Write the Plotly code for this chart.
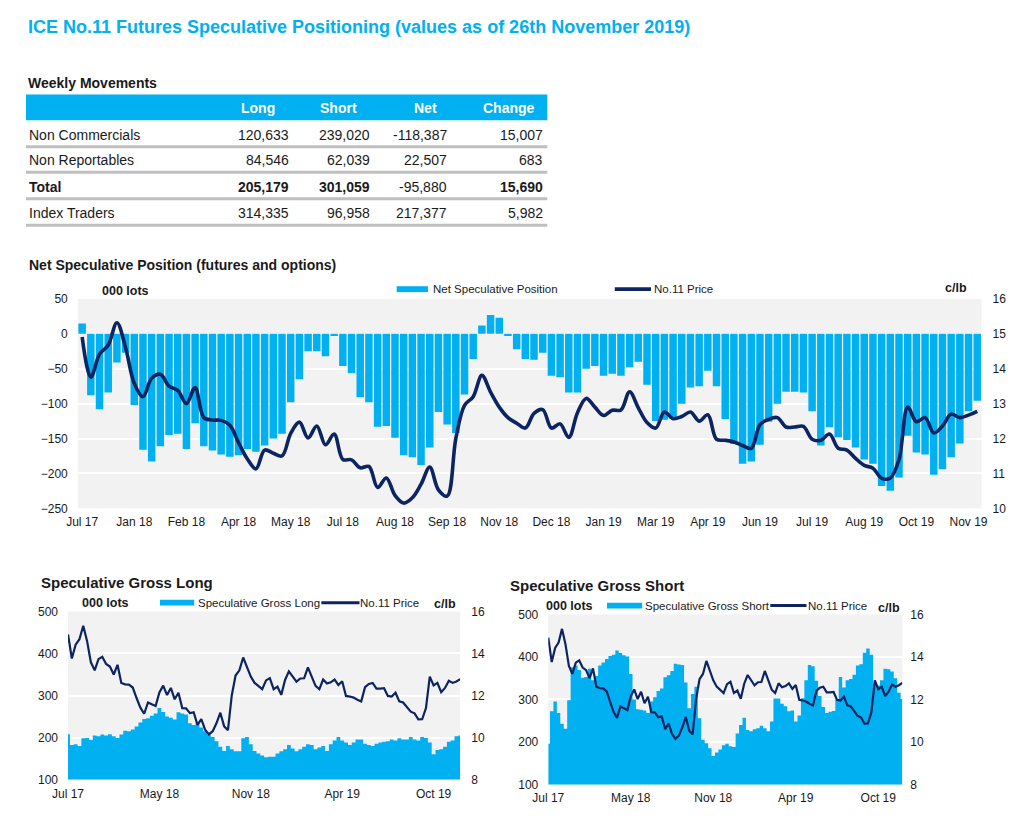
import plotly.graph_objects as go

# ---------------- data ----------------
table_cols = ["Long", "Short", "Net", "Change"]
table_rows = ["Non Commercials", "Non Reportables", "Total", "Index Traders"]
row_long = ["120,633", "84,546", "205,179", "314,335"]
row_short = ["239,020", "62,039", "301,059", "96,958"]
row_net = ["-118,387", "22,507", "-95,880", "217,377"]
row_change = ["15,007", "683", "15,690", "5,982"]
row_bold = [False, False, True, False]

main_ticks = ["Jul 17", "Jan 18", "Feb 18", "Apr 18", "May 18", "Jul 18", "Aug 18", "Sep 18",
              "Nov 18", "Dec 18", "Jan 19", "Mar 19", "Apr 19", "Jun 19", "Jul 19", "Aug 19",
              "Oct 19", "Nov 19"]
small_ticks = ["Jul 17", "May 18", "Nov 18", "Apr 19", "Oct 19"]

net_position = [15, -88, -108, -84, -41, -27, -102, -166, -183, -161,
                -145, -143, -165, -128, -161, -167, -173, -176, -174, -165,
                -169, -160, -150, -143, -98, -65, -25, -25, -32, -3,
                -46, -56, -91, -98, -133, -132, -149, -174, -177, -188,
                -163, -112, -130, -142, -87, -36, 12, 27, 23, -3,
                -22, -36, -37, -27, -60, -62, -84, -84, -50, -46,
                -60, -57, -60, -48, -40, -73, -125, -123, -122, -100,
                -77, -75, -53, -75, -122, -158, -186, -183, -159, -126,
                -100, -83, -83, -84, -111, -160, -134, -148, -152, -163,
                -180, -186, -218, -225, -206, -146, -170, -173, -202, -194,
                -177, -157, -111, -96]

gross_long = [208, 182, 184, 180, 198, 199, 194, 205, 203, 207,
              205, 208, 203, 199, 207, 216, 215, 219, 226, 236,
              244, 246, 252, 257, 270, 261, 250, 247, 243, 260,
              257, 255, 234, 230, 234, 224, 215, 207, 201, 191,
              178, 168, 180, 172, 167, 167, 198, 201, 184, 168,
              162, 157, 153, 154, 154, 162, 167, 172, 182, 174,
              167, 172, 178, 184, 182, 172, 176, 180, 168, 184,
              193, 201, 193, 188, 182, 188, 195, 195, 185, 182,
              180, 185, 188, 190, 191, 195, 193, 198, 195, 195,
              201, 195, 193, 201, 199, 188, 160, 170, 172, 178,
              190, 193, 203, 205]

gross_short = [196, 272, 295, 268, 243, 231, 298, 376, 380, 369,
               351, 353, 372, 345, 355, 380, 387, 395, 402, 405,
               415, 409, 404, 401, 360, 300, 277, 276, 274, 268,
               295, 305, 320, 326, 352, 357, 367, 384, 382, 381,
               340, 279, 313, 330, 256, 205, 197, 185, 167, 175,
               182, 192, 196, 190, 188, 220, 240, 257, 228, 225,
               230, 232, 238, 232, 225, 248, 302, 302, 290, 284,
               272, 274, 248, 262, 303, 345, 381, 378, 344, 308,
               282, 268, 271, 273, 300, 353, 328, 345, 348, 358,
               380, 383, 410, 420, 405, 336, 333, 345, 372, 371,
               366, 350, 316, 301]

no11_price = [14.91, 13.76, 14.42, 14.68, 15.32, 14.6, 13.58, 13.2, 13.73, 13.84,
              13.5, 13.38, 13.0, 13.46, 12.6, 12.53, 12.52, 12.38, 11.88, 11.42,
              11.13, 11.67, 11.58, 11.5, 12.15, 12.47, 12.02, 12.36, 11.82, 12.13,
              11.4, 11.39, 11.16, 11.2, 10.6, 10.87, 10.37, 10.15, 10.3, 10.69,
              11.18, 10.53, 10.35, 12.0, 12.95, 13.2, 13.81, 13.33, 12.9, 12.6,
              12.44, 12.3, 12.72, 12.83, 12.3, 12.42, 12.03, 12.74, 13.15, 12.9,
              12.66, 12.81, 12.82, 13.34, 12.88, 12.46, 12.3, 12.76, 12.57, 12.63,
              12.76, 12.5, 12.68, 11.98, 11.95, 11.9, 11.8, 11.72, 12.4, 12.55,
              12.6, 12.33, 12.33, 12.35, 11.98, 11.95, 12.13, 11.72, 11.67, 11.43,
              11.23, 11.15, 10.86, 10.87, 11.4, 12.9, 12.48, 12.6, 12.16, 12.36,
              12.7, 12.6, 12.67, 12.78]

weeks = list(range(len(net_position)))

# ---------------- style ----------------
PAGE_W, PAGE_H = 1021, 824
BODY_MARGIN = 8                       # default browser body margin
W, H = PAGE_W - 2 * BODY_MARGIN, PAGE_H - 2 * BODY_MARGIN
BLUE = "#00B0F0"
NAVY = "#0C2461"
GREY_BG = "#F2F2F2"
TXT = "#1A1A1A"
FONT = "Liberation Sans, Arial, sans-serif"


def xp(px):
    return (px - BODY_MARGIN) / W


def yp(py):
    return 1 - (py - BODY_MARGIN) / H


fig = go.Figure()

# main chart
fig.add_trace(go.Bar(x=weeks, y=net_position, xaxis="x", yaxis="y", marker_color=BLUE,
                     marker_line_width=0, width=0.86, showlegend=False))
fig.add_trace(go.Scatter(x=weeks, y=no11_price, xaxis="x", yaxis="y2", mode="lines",
                         line=dict(color=NAVY, width=3.6, shape="spline", smoothing=1.0),
                         showlegend=False))
# gross long (stepped column area)
fig.add_trace(go.Scatter(x=weeks, y=gross_long, xaxis="x2", yaxis="y3", mode="lines",
                         line=dict(width=0, shape="hvh", color=BLUE), fill="tozeroy",
                         fillcolor=BLUE, showlegend=False))
fig.add_trace(go.Scatter(x=weeks, y=no11_price, xaxis="x2", yaxis="y4", mode="lines",
                         line=dict(color=NAVY, width=2.2), showlegend=False))
# gross short (stepped column area)
fig.add_trace(go.Scatter(x=weeks, y=gross_short, xaxis="x3", yaxis="y5", mode="lines",
                         line=dict(width=0, shape="hvh", color=BLUE), fill="tozeroy",
                         fillcolor=BLUE, showlegend=False))
fig.add_trace(go.Scatter(x=weeks, y=no11_price, xaxis="x3", yaxis="y6", mode="lines",
                         line=dict(color=NAVY, width=2.2), showlegend=False))

tickfont = dict(family=FONT, size=12, color=TXT)


def xaxis(dom, anchor, step, labels, standoff, rng):
    return dict(domain=[xp(dom[0]), xp(dom[1])], anchor=anchor, range=rng,
                tickmode="array", tickvals=weeks[::step], ticktext=labels,
                showgrid=False, zeroline=False, showline=False, ticks="",
                tickfont=tickfont, ticklabelstandoff=standoff, fixedrange=True)


def yleft(dom, anchor, rng, dtick, standoff):
    return dict(domain=[yp(dom[1]), yp(dom[0])], anchor=anchor, range=rng, dtick=dtick,
                showgrid=True, gridcolor="white", gridwidth=1.6, zeroline=False,
                showline=False, ticks="", tickfont=tickfont, ticklabelstandoff=standoff,
                fixedrange=True)


def yright(over, anchor, rng, dtick, standoff):
    return dict(overlaying=over, anchor=anchor, side="right", range=rng, dtick=dtick,
                showgrid=False, zeroline=False, showline=False, ticks="",
                tickfont=tickfont, ticklabelstandoff=standoff, fixedrange=True)


bar_range = [-0.5, len(weeks) - 0.5]
area_range = [0, len(weeks) - 1]

layout = dict(
    width=W, height=H, margin=dict(l=0, r=0, t=0, b=0),
    paper_bgcolor="white", plot_bgcolor=GREY_BG, barmode="overlay",
    font=dict(family=FONT, color=TXT),
    xaxis=xaxis((63, 987), "y", 6, main_ticks, 5, bar_range),
    yaxis=yleft((297, 510), "x", [-250, 50], 50, 9),
    yaxis2=yright("y", "x", [10, 16], 1, 10),
    xaxis2=xaxis((53, 454), "y3", 24, small_ticks, 5, area_range),
    yaxis3=yleft((615, 786), "x2", [100, 500], 100, 9),
    yaxis4=yright("y3", "x2", [8, 16], 2, 10),
    xaxis3=xaxis((544, 906), "y5", 24, small_ticks, 5, area_range),
    yaxis5=yleft((618, 791), "x3", [100, 500], 100, 9),
    yaxis6=yright("y5", "x3", [8, 16], 2, 7),
)
fig.update_layout(**layout)

ann = []
shapes = []


def text(x, y, s, size, bold=False, color=TXT, anchor="left", family=FONT):
    ann.append(dict(x=xp(x), y=yp(y), xref="paper", yref="paper", text=f"<b>{s}</b>" if bold else s,
                    showarrow=False, xanchor=anchor, yanchor="middle",
                    font=dict(family=family, size=size, color=color), borderpad=0))


# title
text(11, 20, "ICE No.11 Futures Speculative Positioning (values as of 26th November 2019)", 18,
     bold=True, color=BLUE)

# table
text(11, 77, "Weekly Movements", 14, bold=True)
shapes.append(dict(type="rect", xref="paper", yref="paper", x0=xp(10), x1=xp(543),
                   y0=yp(115), y1=yp(89), fillcolor=BLUE, line_width=0, layer="below"))
head_x = [247, 330, 418, 504]
for hx, col in zip(head_x, table_cols):
    text(hx, 103, col, 14, bold=True, color="white", anchor="center")
row_y = [130, 156, 183, 209]
line_y = [142, 168, 195, 222]
num_x = [280, 363, 442, 540]
for i, name in enumerate(table_rows):
    b = row_bold[i]
    text(12, row_y[i], name, 14, bold=b)
    vals = [row_long[i], row_short[i], row_net[i], row_change[i]]
    for j, v in enumerate(vals):
        bj = b and j != 2
        text(num_x[j], row_y[i], v, 14, bold=bj, anchor="right")
    shapes.append(dict(type="line", xref="paper", yref="paper", x0=xp(10), x1=xp(543),
                       y0=yp(line_y[i]), y1=yp(line_y[i]), line=dict(color="#BFBFBF", width=3)))

# main chart labels & legend
text(12, 262, "Net Speculative Position (futures and options)", 14, bold=True)
text(87, 289, "000 lots", 12.5, bold=True)
text(949, 286, "c/lb", 12.5, bold=True)


def bar_swatch(x0, x1, y):
    shapes.append(dict(type="rect", xref="paper", yref="paper", x0=xp(x0), x1=xp(x1),
                       y0=yp(y + 3), y1=yp(y - 3), fillcolor=BLUE, line_width=0))


def line_swatch(x0, x1, y, w):
    shapes.append(dict(type="line", xref="paper", yref="paper", x0=xp(x0), x1=xp(x1),
                       y0=yp(y), y1=yp(y), line=dict(color=NAVY, width=w)))


bar_swatch(389, 421, 287)
text(425, 287, "Net Speculative Position", 11.5)
line_swatch(612, 649, 287, 3.6)
text(651, 287, "No.11 Price", 11.5)

# gross long labels
text(24, 585, "Speculative Gross Long", 15, bold=True)
text(66, 606, "000 lots", 12.5, bold=True)
bar_swatch(147, 182, 606)
text(185, 606, "Speculative Gross Long", 11.5)
line_swatch(312, 351, 606, 3)
text(351, 606, "No.11 Price", 11.5)
text(426, 607, "c/lb", 12.5, bold=True)

# gross short labels
text(504, 589, "Speculative Gross Short", 15, bold=True)
text(541, 609, "000 lots", 12.5, bold=True)
bar_swatch(604, 640, 609)
text(642, 609, "Speculative Gross Short", 11.5)
line_swatch(771, 808, 609, 3)
text(809, 609, "No.11 Price", 11.5)
text(880, 611, "c/lb", 12.5, bold=True)

fig.update_layout(annotations=ann, shapes=shapes)

fig.write_html("out.html", config={"displayModeBar": False})
